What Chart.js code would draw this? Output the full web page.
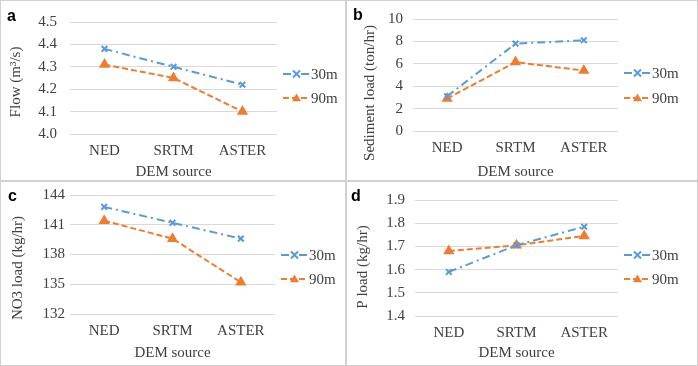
<!DOCTYPE html>
<html>
<head>
<meta charset="utf-8">
<script src="https://cdn.jsdelivr.net/npm/chart.js@4.4.0/dist/chart.umd.min.js"></script>
<style>
  html, body { margin: 0; padding: 0; background: #fff; }
  #wrap { position: relative; width: 698px; height: 366px; }
  canvas { position: absolute; }
</style>
</head>
<body>
<div id="wrap">
  <canvas id="panelA" width="346" height="181" style="left:0;top:0"></canvas>
  <canvas id="panelB" width="352" height="181" style="left:346px;top:0"></canvas>
  <canvas id="panelC" width="346" height="185" style="left:0;top:181px"></canvas>
  <canvas id="panelD" width="352" height="185" style="left:346px;top:181px"></canvas>
</div>
<script>
// 数据
const categories = ['NED', 'SRTM', 'ASTER'];
const seriesNames = ['30m', '90m'];

const flow30 = [4.38, 4.30, 4.22];
const flow90 = [4.31, 4.25, 4.10];
const sed30 = [3.1, 7.8, 8.1];
const sed90 = [2.9, 6.15, 5.4];
const no3_30 = [142.8, 141.2, 139.6];
const no3_90 = [141.4, 139.6, 135.2];
const p30 = [1.59, 1.705, 1.785];
const p90 = [1.68, 1.705, 1.745];

const blue = '#5B9BD5';
const orange = '#ED7D31';
const serif = "'Liberation Serif', 'Times New Roman', serif";
const textColor = '#404040';

// 面板装饰: 边框, 字母, 纵轴标题, 图例
const panelDeco = {
    id: 'panelDeco',
    afterDraw(chart, args, opts) {
        const ctx = chart.ctx;
        const w = chart.width, h = chart.height;
        ctx.save();
        ctx.strokeStyle = '#d0d0d0';
        ctx.lineWidth = 1;
        ctx.strokeRect(0.5, 0.5, w - 1, h - 1);

        ctx.fillStyle = '#000';
        ctx.font = "bold 16px 'Liberation Sans', Arial, sans-serif";
        ctx.textBaseline = 'middle';
        ctx.textAlign = 'left';
        ctx.fillText(opts.letter, opts.letterX, opts.letterY);

        // 纵轴标题
        ctx.save();
        ctx.translate(opts.titleX, opts.titleY);
        ctx.rotate(-Math.PI / 2);
        ctx.fillStyle = textColor;
        ctx.font = '15px ' + serif;
        ctx.textAlign = 'center';
        ctx.fillText(opts.yTitle, 0, 0);
        ctx.restore();

        const right = chart.chartArea.right;
        chart.data.datasets.forEach((ds, i) => {
            const y = opts.legendY[i];
            const x0 = right + 6, x1 = right + 33, mx = (x0 + x1) / 2;
            ctx.strokeStyle = ds.borderColor;
            ctx.lineWidth = 2;
            ctx.setLineDash(ds.borderDash);
            ctx.beginPath();
            ctx.moveTo(x0, y);
            ctx.lineTo(x1, y);
            ctx.stroke();
            ctx.setLineDash([]);
            if (ds.pointStyle === 'crossRot') {
                const r = 3.5;
                ctx.beginPath();
                ctx.moveTo(mx - r, y - r); ctx.lineTo(mx + r, y + r);
                ctx.moveTo(mx - r, y + r); ctx.lineTo(mx + r, y - r);
                ctx.stroke();
            } else {
                const r = 4.5;
                ctx.fillStyle = ds.backgroundColor;
                ctx.beginPath();
                ctx.moveTo(mx, y - r);
                ctx.lineTo(mx + r, y + r * 0.7);
                ctx.lineTo(mx - r, y + r * 0.7);
                ctx.closePath();
                ctx.fill();
            }
            ctx.fillStyle = textColor;
            ctx.font = '15px ' + serif;
            ctx.textAlign = 'left';
            ctx.textBaseline = 'middle';
            ctx.fillText(ds.label, right + 34, y + 1);
        });
        ctx.restore();
    }
};

function makePanel(id, cfg, s30, s90) {
    const font = { family: serif, size: 15 };
    new Chart(document.getElementById(id), {
        type: 'line',
        data: {
            labels: categories,
            datasets: [
                {
                    label: seriesNames[0],
                    data: s30,
                    borderColor: blue,
                    backgroundColor: blue,
                    borderDash: [8, 4, 2, 4],
                    borderWidth: 2,
                    pointStyle: 'crossRot',
                    pointRadius: 4,
                    pointBorderWidth: 2,
                    tension: 0
                },
                {
                    label: seriesNames[1],
                    data: s90,
                    borderColor: orange,
                    backgroundColor: orange,
                    borderDash: [6, 3],
                    borderWidth: 2,
                    pointStyle: 'triangle',
                    pointRadius: 4.5,
                    tension: 0
                }
            ]
        },
        options: {
            responsive: false,
            animation: false,
            layout: {
                padding: { top: cfg.top, right: cfg.w - cfg.right, bottom: 0, left: 0 }
            },
            plugins: {
                legend: { display: false },
                tooltip: { enabled: false },
                panelDeco: cfg.deco
            },
            scales: {
                x: {
                    offset: true,
                    grid: { display: false, drawTicks: false },
                    border: { display: false },
                    ticks: { font: font, color: textColor, padding: 8 },
                    title: {
                        display: true, text: 'DEM source', font: font, color: textColor,
                        padding: { top: 0, bottom: cfg.xTitlePad }
                    },
                    afterFit: (s) => { s.height = cfg.h - cfg.bottom; }
                },
                y: {
                    min: cfg.min,
                    max: cfg.max,
                    ticks: {
                        stepSize: cfg.step,
                        font: font,
                        color: textColor,
                        padding: cfg.tickPad,
                        callback: (v) => v.toFixed(cfg.dec)
                    },
                    grid: { color: '#d9d9d9', drawTicks: false },
                    border: { display: false },
                    afterFit: (s) => { s.width = cfg.left; }
                }
            }
        },
        plugins: [panelDeco]
    });
}

makePanel('panelA', {
    w: 346, h: 181, left: 70, right: 277, top: 17, bottom: 134,
    min: 4.0, max: 4.5, step: 0.1, dec: 1, tickPad: 13, xTitlePad: 0,
    deco: { letter: 'a', letterX: 7, letterY: 17, yTitle: 'Flow (m³/s)', titleX: 16, titleY: 82, legendY: [74, 98] }
}, flow30, flow90);

makePanel('panelB', {
    w: 352, h: 181, left: 67, right: 272, top: 17, bottom: 131,
    min: 0, max: 10, step: 2, dec: 0, tickPad: 10, xTitlePad: 0,
    deco: { letter: 'b', letterX: 7, letterY: 16, yTitle: 'Sediment load (ton/hr)', titleX: 24, titleY: 93, legendY: [73, 98] }
}, sed30, sed90);

makePanel('panelC', {
    w: 346, h: 185, left: 70, right: 275, top: 9, bottom: 133,
    min: 132, max: 144, step: 3, dec: 0, tickPad: 5, xTitlePad: 4,
    deco: { letter: 'c', letterX: 8, letterY: 16, yTitle: 'NO3 load (kg/hr)', titleX: 18, titleY: 87, legendY: [74, 98] }
}, no3_30, no3_90);

makePanel('panelD', {
    w: 352, h: 185, left: 69, right: 272, top: 8, bottom: 135,
    min: 1.4, max: 1.9, step: 0.1, dec: 1, tickPad: 10, xTitlePad: 4,
    deco: { letter: 'd', letterX: 5, letterY: 16, yTitle: 'P load (kg/hr)', titleX: 17, titleY: 86, legendY: [74, 98] }
}, p30, p90);
</script>
</body>
</html>
